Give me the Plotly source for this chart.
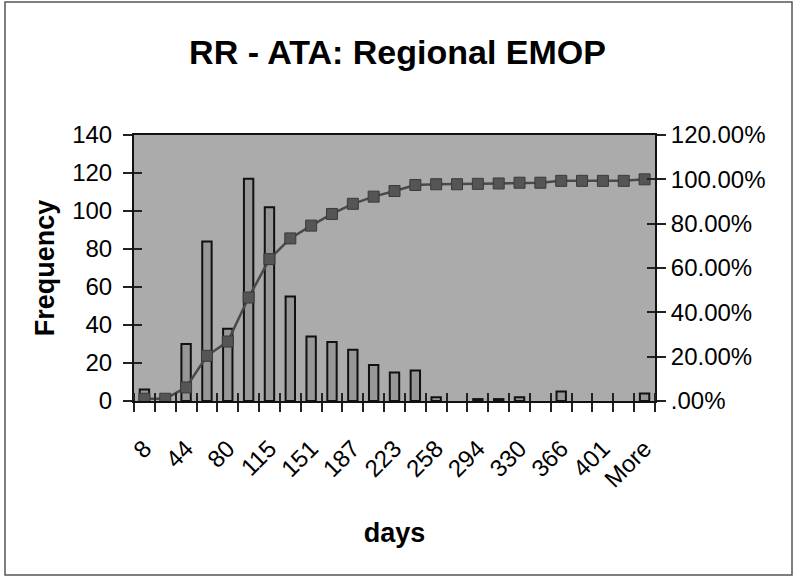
import numpy as np
import plotly.graph_objects as go

# Histogram bins (upper bound, days) and their frequencies
bins = ["8", "26", "44", "62", "80", "97", "115", "133", "151", "169", "187", "205",
        "223", "240", "258", "276", "294", "312", "330", "348", "366", "383", "401",
        "419", "More"]
freq = [6, 0, 30, 84, 38, 117, 102, 55, 34, 31, 27, 19, 15, 16, 2, 0, 1, 1, 2, 0, 5,
        0, 0, 0, 4]

# Left / right axis tick labels
freq_ticks = [0, 20, 40, 60, 80, 100, 120, 140]
pct_tickvals = [0, 0.2, 0.4, 0.6, 0.8, 1.0, 1.2]
pct_ticktext = [".00%", "20.00%", "40.00%", "60.00%", "80.00%", "100.00%", "120.00%"]

# Cumulative share of the frequencies (Pareto line)
cum_pct = np.cumsum(freq) / np.sum(freq)

xpos = np.arange(len(bins))
label_idx = xpos[::2]
# Empty bins draw no bar at all (not even an outline)
bar_vals = [v if v > 0 else None for v in freq]

FONT = "Liberation Sans, Arial, sans-serif"
ML, MR, MT, MB = 134, 140, 135, 176
W, H = 795, 577
plot_w = W - ML - MR
plot_h = H - MT - MB

fig = go.Figure()

fig.add_trace(go.Bar(
    x=xpos, y=bar_vals, width=0.45,
    marker=dict(color="#979797", line=dict(color="#111111", width=2)),
    showlegend=False, hoverinfo="skip", xaxis="x", yaxis="y",
))

fig.add_trace(go.Scatter(
    x=xpos, y=cum_pct, mode="lines+markers",
    line=dict(color="#4a4a4a", width=2.5),
    marker=dict(symbol="square", size=11, color="#555555",
                line=dict(color="#3a3a3a", width=1)),
    showlegend=False, hoverinfo="skip", xaxis="x", yaxis="y2",
))

# Empty traces that carry the inner halves of the crossing tick marks
fig.add_trace(go.Scatter(x=[None], y=[None], xaxis="x2", yaxis="y3",
                         showlegend=False, hoverinfo="skip"))
fig.add_trace(go.Scatter(x=[None], y=[None], xaxis="x2", yaxis="y4",
                         showlegend=False, hoverinfo="skip"))

xr = [-0.5, len(bins) - 0.5]
tickfont = dict(family=FONT, size=24, color="black")

fig.update_layout(
    width=W, height=H,
    margin=dict(l=ML, r=MR, t=MT, b=MB),
    paper_bgcolor="white",
    plot_bgcolor="#ababab",
    title=dict(text="<b>RR - ATA: Regional EMOP</b>", x=0.5, xanchor="center",
               y=1 - 52 / H, yanchor="middle",
               font=dict(family=FONT, size=34, color="black")),
    xaxis=dict(
        range=xr, tickmode="array", tickvals=label_idx,
        ticktext=[bins[i] for i in label_idx], tickangle=-45,
        ticks="outside", ticklen=0, ticklabelstandoff=22,
        minor=dict(ticks="outside", tick0=-0.5, dtick=1, ticklen=9,
                   tickcolor="#222222", tickwidth=1.5),
        showgrid=False, zeroline=False,
        showline=True, linecolor="#111111", linewidth=2, mirror=True,
        tickfont=tickfont,
        title=dict(text="<b>days</b>", font=dict(family=FONT, size=27, color="black"),
                   standoff=32),
    ),
    xaxis2=dict(
        range=xr, overlaying="x", anchor="y3", showticklabels=False,
        ticks="", showgrid=False, zeroline=False, showline=False,
        tickmode="array", tickvals=[],
        minor=dict(ticks="inside", tick0=-0.5, dtick=1, ticklen=8,
                   tickcolor="#222222", tickwidth=1.5),
    ),
    yaxis=dict(
        range=[0, 140], tickmode="array", tickvals=freq_ticks,
        ticks="outside", ticklen=9, tickwidth=1.5, tickcolor="#222222",
        ticklabelstandoff=6,
        showgrid=False, zeroline=False,
        showline=True, linecolor="#111111", linewidth=2,
        tickfont=tickfont,
        title=dict(text="<b>Frequency</b>",
                   font=dict(family=FONT, size=27, color="black"), standoff=10),
    ),
    yaxis2=dict(
        range=[0, 1.2], overlaying="y", side="right", anchor="x",
        tickmode="array", tickvals=pct_tickvals, ticktext=pct_ticktext,
        ticks="outside", ticklen=9, tickwidth=1.5, tickcolor="#222222",
        showgrid=False, zeroline=False,
        showline=True, linecolor="#111111", linewidth=2,
        tickfont=tickfont,
    ),
    yaxis3=dict(
        range=[0, 140], overlaying="y", side="left", anchor="x2",
        tickmode="array", tickvals=freq_ticks, ticks="inside", ticklen=8,
        tickwidth=1.5, tickcolor="#222222", showticklabels=False,
        showgrid=False, zeroline=False, showline=False,
    ),
    yaxis4=dict(
        range=[0, 1.2], overlaying="y", side="right", anchor="x2",
        tickmode="array", tickvals=pct_tickvals, ticks="inside", ticklen=8,
        tickwidth=1.5, tickcolor="#222222", showticklabels=False,
        showgrid=False, zeroline=False, showline=False,
    ),
)

# Thin frame around the whole chart
fx0, fx1, fy0, fy1 = 5, 792, 2, 575
fig.add_shape(
    type="rect", xref="paper", yref="paper",
    x0=(fx0 - ML) / plot_w, x1=(fx1 - ML) / plot_w,
    y0=(H - MB - fy1) / plot_h, y1=(H - MB - fy0) / plot_h,
    line=dict(color="#555555", width=1.5), fillcolor="rgba(0,0,0,0)", layer="below",
)

fig.write_html("out.html")
